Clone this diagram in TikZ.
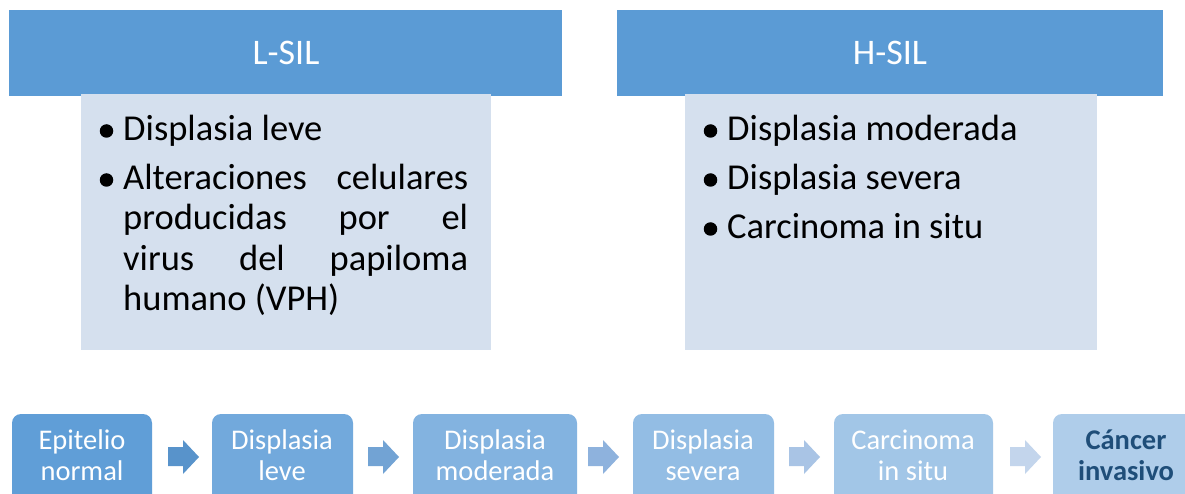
\documentclass[tikz,border=0pt]{standalone}
\usepackage{fontspec}
\setmainfont{Carlito}
\definecolor{hdr}{HTML}{5B9BD5}
\definecolor{bodyc}{HTML}{D5E0EE}
\definecolor{bA}{HTML}{609ED7}
\definecolor{bB}{HTML}{72A9DC}
\definecolor{bC}{HTML}{83B3E0}
\definecolor{bD}{HTML}{93BDE4}
\definecolor{bE}{HTML}{A2C6E7}
\definecolor{bF}{HTML}{AFCDEA}
\definecolor{aA}{HTML}{5893CB}
\definecolor{aB}{HTML}{72A3D4}
\definecolor{aC}{HTML}{8EB2DD}
\definecolor{aD}{HTML}{A9C4E5}
\definecolor{aE}{HTML}{C3D5EC}
\definecolor{darkt}{HTML}{1F4E79}
\tikzset{
  hdrbox/.style={fill=hdr, draw=none},
  bodybox/.style={fill=bodyc, draw=none},
  hdrtext/.style={text=white, font=\fontsize{36}{40}\selectfont, inner sep=0pt},
  bullettext/.style={text=black, font=\fontsize{36.5}{40}\selectfont, inner sep=0pt, anchor=base west},
  bulletdot/.style={circle, fill=black, draw=none, minimum size=13.5pt, inner sep=0pt},
  stagebox/.style={draw=none, rounded corners=9pt},
  stagetext/.style={text=white, font=\fontsize{28.5}{31}\selectfont, align=center, inner sep=0pt},
}
\begin{document}
\begin{tikzpicture}[x=1pt,y=-1pt]
\clip (0,0) rectangle (1185,494);
\fill[white] (0,0) rectangle (1185,494);
% headers
\path[hdrbox] (9,10) rectangle (562,96);
\path[hdrbox] (617,10) rectangle (1163,96);
\node[hdrtext] (lsil) at (286,53) {L-SIL};
\node[hdrtext] (hsil) at (890,53) {H-SIL};
% bodies
\path[bodybox] (81,94) rectangle (491,350);
\path[bodybox] (685,94) rectangle (1097,350);
% L-SIL bullets
\node[bulletdot] (lb1) at (106.5,131) {};
\node[bullettext] (lt1) at (123,141) {Displasia leve};
\node[bulletdot] (lb2) at (106.5,180) {};
\node[bullettext] (lt2) at (123,190) {\makebox[345pt][s]{Alteraciones celulares}};
\node[bullettext] (lt3) at (123,230) {\makebox[345pt][s]{producidas por el}};
\node[bullettext] (lt4) at (123,270) {\makebox[345pt][s]{virus del papiloma}};
\node[bullettext] (lt5) at (123,310) {humano (VPH)};
% H-SIL bullets
\node[bulletdot] (hb1) at (710.5,131) {};
\node[bullettext] (ht1) at (727,141) {Displasia moderada};
\node[bulletdot] (hb2) at (710.5,180) {};
\node[bullettext] (ht2) at (727,190) {Displasia severa};
\node[bulletdot] (hb3) at (710.5,229) {};
\node[bullettext] (ht3) at (727,239) {Carcinoma in situ};
% bottom stages
\path[stagebox, fill=bA] (12,414) rectangle (152,520);
\path[stagebox, fill=bB] (212,414) rectangle (353,520);
\path[stagebox, fill=bC] (413,414) rectangle (577,520);
\path[stagebox, fill=bD] (633,414) rectangle (774,520);
\path[stagebox, fill=bE] (834,414) rectangle (993,520);
\path[stagebox, fill=bF] (1053,414) rectangle (1200,520);
\node[stagetext] (s1) at (82,455) {Epitelio\\normal};
\node[stagetext] (s2) at (282,455) {Displasia\\leve};
\node[stagetext] (s3) at (495,455) {Displasia\\moderada};
\node[stagetext] (s4) at (703,455) {Displasia\\severa};
\node[stagetext] (s5) at (913,455) {Carcinoma\\in situ};
\node[stagetext, text=darkt, font=\fontsize{28.5}{31}\selectfont\bfseries] (s6) at (1126,455) {Cáncer\\invasivo};
% arrows
\foreach \x/\c in {168/aA, 368/aB, 588/aC, 789/aD, 1010/aE}{
  \fill[\c] (\x,447) -- ({\x+15},447) -- ({\x+15},440) -- ({\x+31},457) -- ({\x+15},474) -- ({\x+15},466) -- (\x,466) -- cycle;
}
\end{tikzpicture}
\end{document}
